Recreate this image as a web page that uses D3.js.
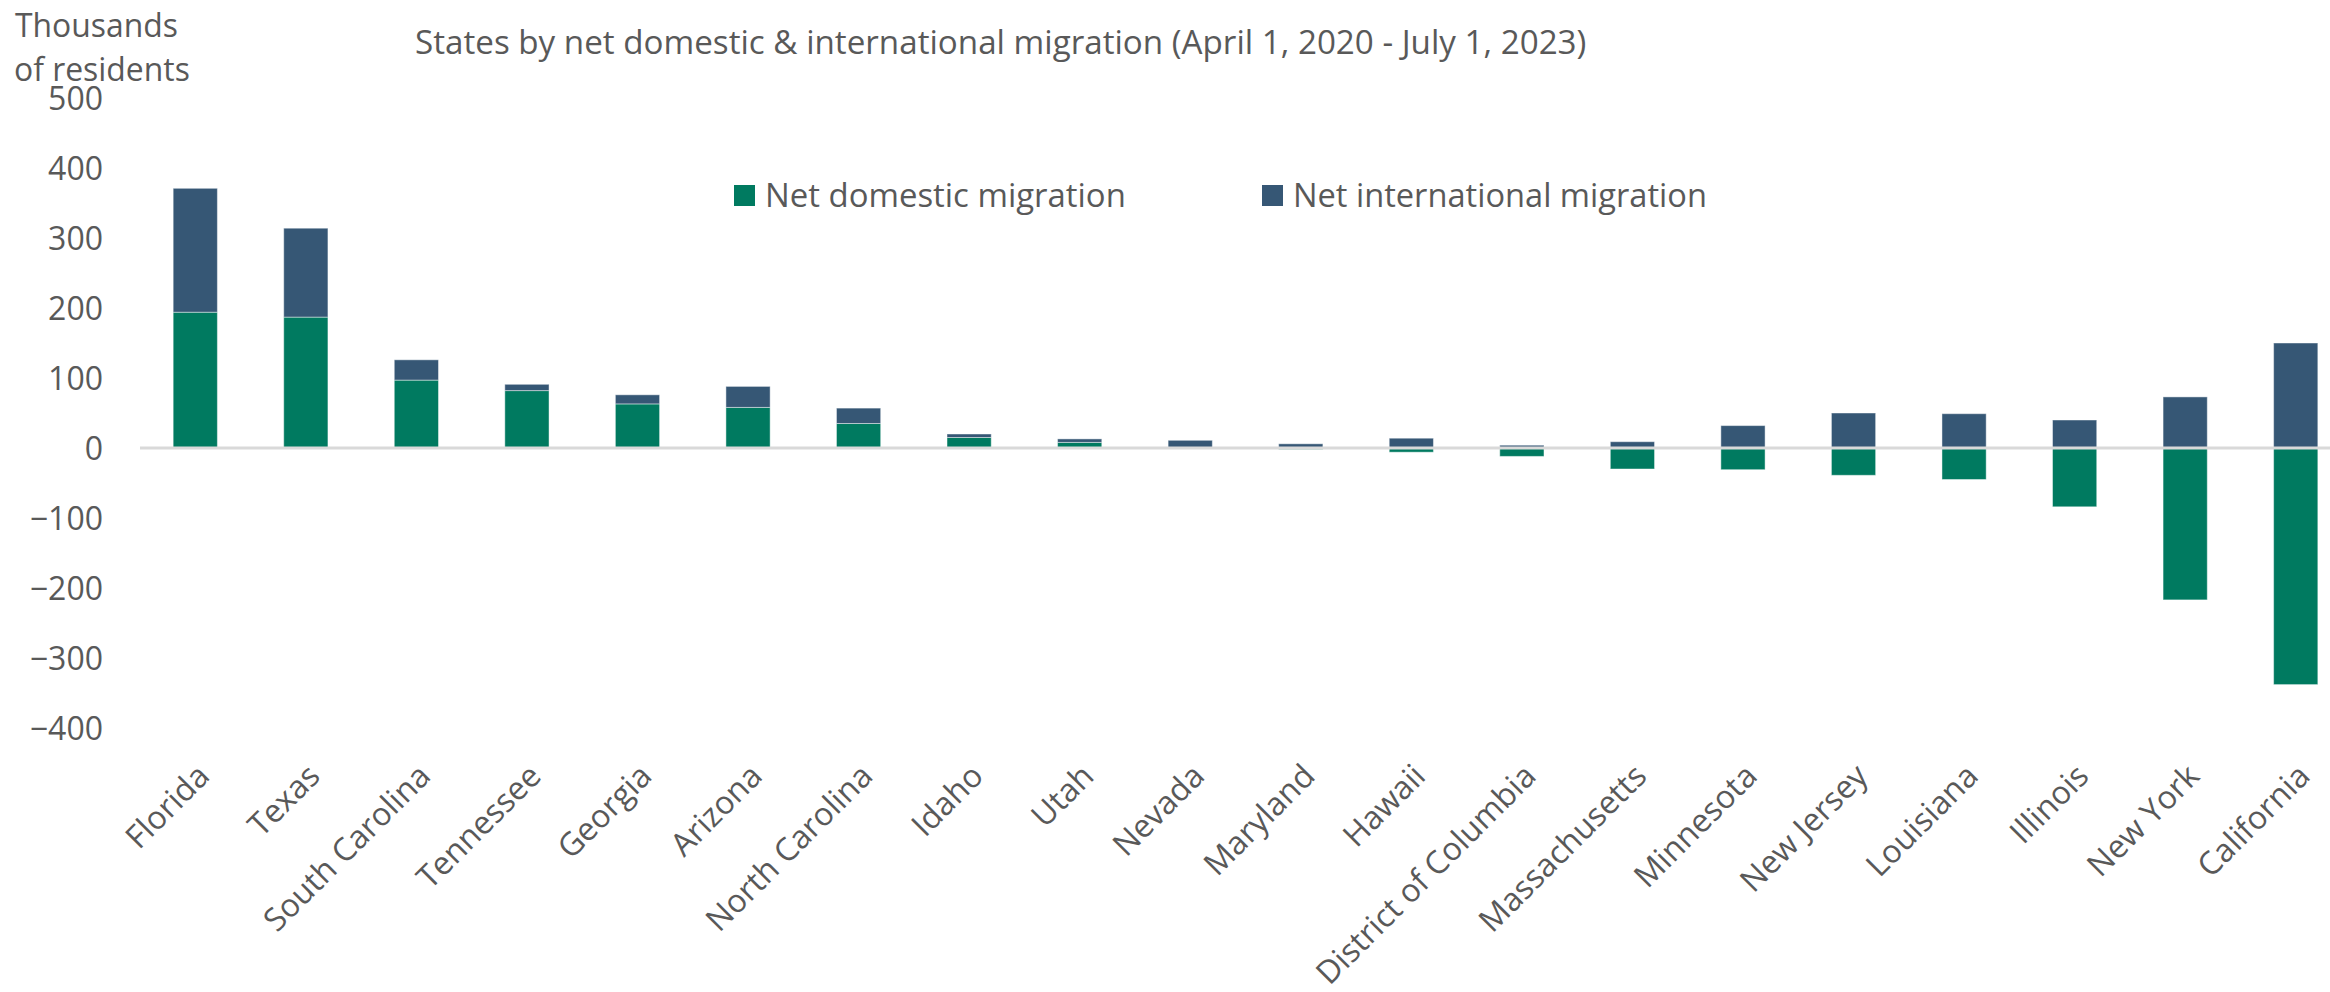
<!DOCTYPE html>
<html>
<head>
<meta charset="utf-8">
<script src="https://cdn.jsdelivr.net/npm/d3@7"></script>
<style>
  html, body { margin: 0; padding: 0; background: #ffffff; }
  svg { display: block; font-family: "Open Sans", "Noto Sans", sans-serif; }
</style>
</head>
<body>
<svg id="chart" width="2330" height="992"></svg>
<script>
// ---- Data (thousands of residents) ----
const states = ["Florida", "Texas", "South Carolina", "Tennessee", "Georgia", "Arizona",
  "North Carolina", "Idaho", "Utah", "Nevada", "Maryland", "Hawaii", "District of Columbia",
  "Massachusetts", "Minnesota", "New Jersey", "Louisiana", "Illinois", "New York", "California"];
const netDomestic = [194, 187, 97, 82, 63, 58, 35, 15, 8, 0, -2, -6, -12, -30, -31, -39, -45, -84, -217, -338];
const netInternational = [177, 127, 29, 9, 13, 30, 22, 5, 5, 11, 6, 14, 4, 9, 32, 50, 49, 40, 73, 150];
const seriesNames = ["Net domestic migration", "Net international migration"];
const yTicks = [500, 400, 300, 200, 100, 0, -100, -200, -300, -400];
const titleText = "States by net domestic & international migration (April 1, 2020 - July 1, 2023)";
const yTitleLines = ["Thousands", "of residents"];

// ---- Styles ----
const colors = ["#007A60", "#365775"];
const textColor = "#595959";
const W = 2330, H = 992;

const svg = d3.select("#chart");
svg.append("rect").attr("width", W).attr("height", H).attr("fill", "#ffffff");

// table built from arrays
const table = states.map((s, i) => ({ state: s, domestic: netDomestic[i], international: netInternational[i] }));
const keys = ["domestic", "international"];
const stacked = d3.stack().keys(keys).offset(d3.stackOffsetDiverging)(table);

const y = d3.scaleLinear().domain([-400, 500]).range([728, 98]);
const x = d3.scaleBand().domain(states).range([140, 2351]).paddingInner(0.6).paddingOuter(0.3);

// Y axis labels
const yAxis = d3.axisLeft(y).tickValues(yTicks).tickSize(0).tickPadding(0).tickFormat(d3.format("d"));
const gy = svg.append("g").attr("transform", "translate(103,0)").call(yAxis);
gy.select(".domain").remove();
gy.selectAll("text")
  .attr("fill", textColor)
  .attr("font-size", 32)
  .attr("font-family", "'Open Sans', sans-serif")
  .attr("dy", "0.36em");

// Bars
svg.append("g").selectAll("g")
  .data(stacked)
  .join("g")
  .attr("fill", (d, i) => colors[i])
  .selectAll("rect")
  .data(d => d)
  .join("rect")
  .attr("x", d => x(d.data.state))
  .attr("width", x.bandwidth())
  .attr("y", d => y(Math.max(d[0], d[1])))
  .attr("height", d => Math.abs(y(d[0]) - y(d[1])))
  .attr("stroke", "rgba(255,255,255,0.45)")
  .attr("stroke-width", 1);

// zero line
svg.append("line")
  .attr("x1", 140).attr("x2", W)
  .attr("y1", y(0)).attr("y2", y(0))
  .attr("stroke", "#d9d9d9").attr("stroke-width", 3);

// X axis labels (rotated)
const xAxis = d3.axisBottom(x).tickSize(0).tickPadding(0);
const gx = svg.append("g").attr("transform", `translate(0,${y(-400)})`).call(xAxis);
gx.select(".domain").remove();
gx.selectAll("text")
  .attr("fill", textColor)
  .attr("font-size", 32)
  .attr("font-family", "'Open Sans', sans-serif")
  .attr("text-anchor", "end")
  .attr("dy", 0)
  .attr("y", 0)
  .attr("transform", "translate(16,50) rotate(-45)");

// helper to fit text width
function fitWidth(sel, target) {
  const base = +sel.attr("font-size");
  const w = sel.node().getComputedTextLength();
  sel.attr("font-size", base * target / w);
}

// Title
const title = svg.append("text")
  .attr("x", 415).attr("y", 54)
  .attr("fill", textColor)
  .attr("font-size", 30)
  .text(titleText);
fitWidth(title, 1172);

// Y title
const yt1 = svg.append("text").attr("x", 15).attr("y", 37).attr("fill", textColor)
  .attr("font-size", 32).text(yTitleLines[0]);
fitWidth(yt1, 163);
svg.append("text").attr("x", 14).attr("y", 81).attr("fill", textColor)
  .attr("font-size", yt1.attr("font-size")).text(yTitleLines[1]);

// Legend
const legendX = [734, 1262];
const legendW = [361, 414];
const lg = svg.append("g");
seriesNames.forEach((name, i) => {
  lg.append("rect").attr("x", legendX[i]).attr("y", 185).attr("width", 21).attr("height", 21).attr("fill", colors[i]);
  const t = lg.append("text").attr("x", legendX[i] + 31).attr("y", 207).attr("fill", textColor)
    .attr("font-size", 32).text(name);
  fitWidth(t, legendW[i]);
});
</script>
</body>
</html>
